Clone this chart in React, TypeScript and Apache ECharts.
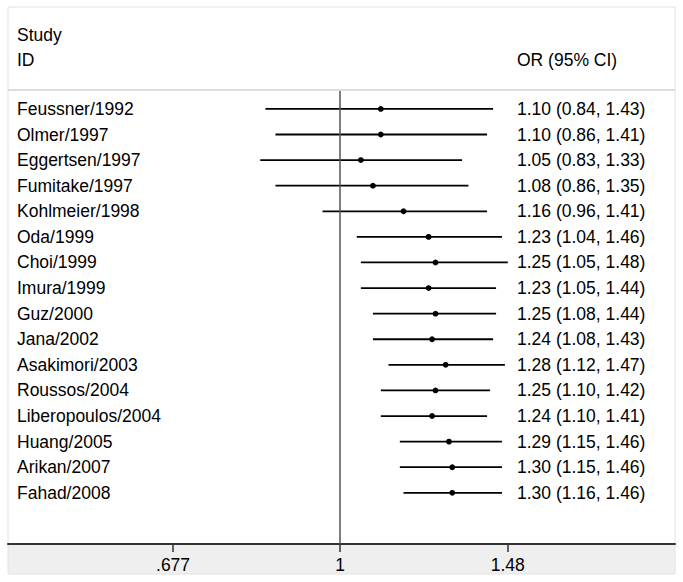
import React, { useEffect, useRef } from "react";
import * as echarts from "echarts";

const studies = [
  "Feussner/1992", "Olmer/1997", "Eggertsen/1997", "Fumitake/1997", "Kohlmeier/1998",
  "Oda/1999", "Choi/1999", "Imura/1999", "Guz/2000", "Jana/2002", "Asakimori/2003",
  "Roussos/2004", "Liberopoulos/2004", "Huang/2005", "Arikan/2007", "Fahad/2008",
];
const orValues = [1.10, 1.10, 1.05, 1.08, 1.16, 1.23, 1.25, 1.23, 1.25, 1.24, 1.28, 1.25, 1.24, 1.29, 1.30, 1.30];
const ciLow = [0.84, 0.86, 0.83, 0.86, 0.96, 1.04, 1.05, 1.05, 1.08, 1.08, 1.12, 1.10, 1.10, 1.15, 1.15, 1.16];
const ciHigh = [1.43, 1.41, 1.33, 1.35, 1.41, 1.46, 1.48, 1.44, 1.44, 1.43, 1.47, 1.42, 1.41, 1.46, 1.46, 1.46];
const tickValues = [0.677, 1, 1.48];
const tickLabels = [".677", "1", "1.48"];

const FONT = "'Liberation Sans', Arial, sans-serif";
const FS = 17.5;

export default function App() {
  const ref = useRef<HTMLDivElement>(null);
  useEffect(() => {
    if (!ref.current) return;
    const chart = echarts.init(ref.current, null, { renderer: "svg" });
    const data = studies.map((_, i) => [
      Math.log(orValues[i]), i, Math.log(ciLow[i]), Math.log(ciHigh[i]),
    ]);
    const fmt = (v: number) => v.toFixed(2);
    const lnTicks = tickValues.map((v) => Math.log(v));
    chart.setOption({
      animation: false,
      backgroundColor: "#fff",
      grid: { left: 8, right: 8, top: 91, bottom: 38 },
      xAxis: {
        type: "value",
        min: -0.7757,
        max: 0.7827,
        splitLine: { show: false },
        axisLine: { show: true, onZero: false, lineStyle: { color: "#333", width: 2 } },
        axisTick: { show: true, length: 8, customValues: lnTicks, lineStyle: { color: "#333", width: 1.5 } },
        axisLabel: {
          customValues: lnTicks,
          margin: 12,
          fontSize: FS,
          fontFamily: FONT,
          color: "#000",
          formatter: (v: number) => {
            let best = 0;
            lnTicks.forEach((t, k) => {
              if (Math.abs(t - v) < Math.abs(lnTicks[best] - v)) best = k;
            });
            return tickLabels[best];
          },
        },
      },
      yAxis: {
        type: "value",
        min: -0.7,
        max: 17,
        inverse: true,
        show: false,
        splitLine: { show: false },
      },
      graphic: [
        { type: "rect", z: -1, shape: { x: 8, y: 545, width: 667, height: 29 }, style: { fill: "#efefef" } },
        { type: "rect", z: -1, shape: { x: 8, y: 7, width: 667, height: 567 }, style: { fill: "none", stroke: "#e2e2e2", lineWidth: 1 } },
        { type: "line", shape: { x1: 8, y1: 90, x2: 675, y2: 90 }, style: { stroke: "#d0d0d0", lineWidth: 1.5 } },
        { type: "text", x: 17, y: 35, style: { text: "Study", fontSize: FS, fontFamily: FONT, fill: "#000", verticalAlign: "middle" } },
        { type: "text", x: 17, y: 60, style: { text: "ID", fontSize: FS, fontFamily: FONT, fill: "#000", verticalAlign: "middle" } },
        { type: "text", x: 517, y: 60, style: { text: "OR (95% CI)", fontSize: FS, fontFamily: FONT, fill: "#000", verticalAlign: "middle" } },
      ],
      series: [
        {
          type: "custom",
          data,
          encode: { x: [0, 2, 3], y: 1 },
          clip: false,
          renderItem: (params: any, api: any) => {
            const idx = api.value(1);
            const pl = api.coord([api.value(2), idx]);
            const ph = api.coord([api.value(3), idx]);
            const pp = api.coord([api.value(0), idx]);
            const y = pp[1];
            const i = params.dataIndex;
            return {
              type: "group",
              children: [
                { type: "line", shape: { x1: pl[0], y1: y, x2: ph[0], y2: y }, style: { stroke: "#000", lineWidth: 1.8 } },
                { type: "circle", shape: { cx: pp[0], cy: y, r: 2.9 }, style: { fill: "#000" } },
                { type: "text", x: 17, y, style: { text: studies[i], fontSize: FS, fontFamily: FONT, fill: "#000", verticalAlign: "middle" } },
                {
                  type: "text", x: 517, y,
                  style: {
                    text: `${fmt(orValues[i])} (${fmt(ciLow[i])}, ${fmt(ciHigh[i])})`,
                    fontSize: FS, fontFamily: FONT, fill: "#000", verticalAlign: "middle",
                  },
                },
              ],
            };
          },
          markLine: {
            silent: true,
            symbol: ["none", "none"],
            label: { show: false },
            lineStyle: { color: "#555", width: 1.5, type: "solid" },
            data: [{ xAxis: 0 }],
          },
        },
      ],
    });
    return () => chart.dispose();
  }, []);
  return (
    <div
      ref={ref}
      style={{ position: "absolute", left: 0, top: 0, width: 683, height: 582 }}
    />
  );
}
